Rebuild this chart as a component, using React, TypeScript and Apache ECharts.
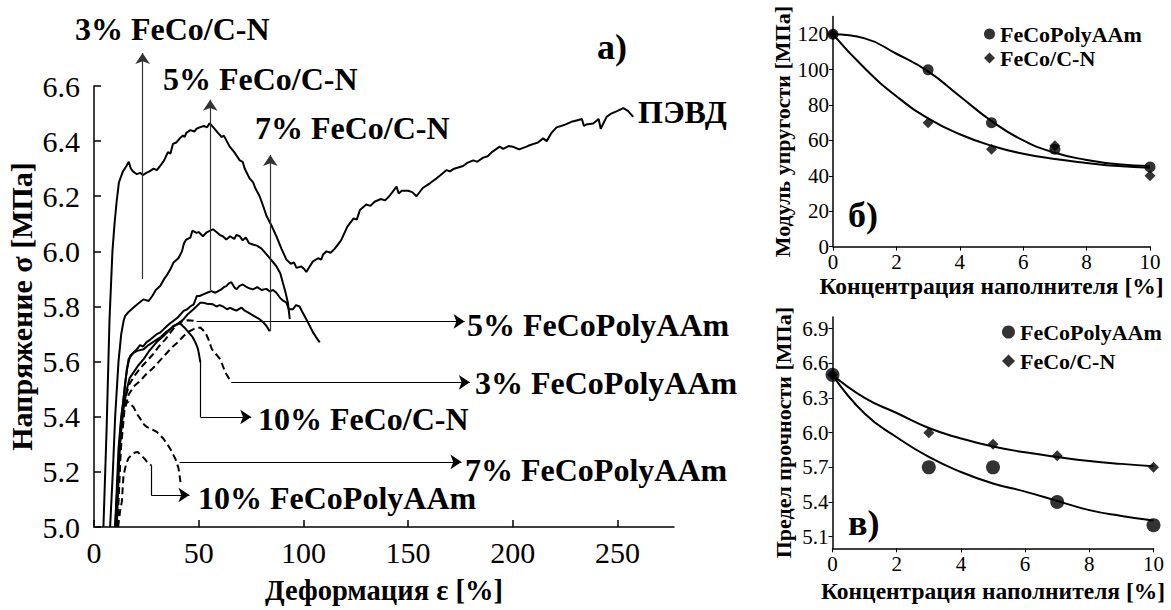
import React, { useEffect, useRef } from "react";
import * as echarts from "echarts";

// ---------- main chart (a): stress-strain curves ----------
const mainXTicks = [0, 50, 100, 150, 200, 250];
const mainYTicks = [5.0, 5.2, 5.4, 5.6, 5.8, 6.0, 6.2, 6.4, 6.6];

const pevd = [
  [4.5, 5.0], [6.0, 5.35], [7.4, 5.75], [8.8, 6.0], [9.8, 6.1], [10.8, 6.18], [11.9, 6.25], [13.8, 6.29],
  [15.5, 6.31], [16.6, 6.325], [17.6, 6.3], [18.6, 6.29], [20.5, 6.28], [22, 6.285], [23.3, 6.277], [25, 6.285],
  [26.5, 6.29], [28.5, 6.3], [30, 6.295], [31.3, 6.307], [33.5, 6.33], [35.3, 6.36], [36.5, 6.355], [37.7, 6.39],
  [39.3, 6.395], [41, 6.41], [42.5, 6.42], [43.3, 6.415], [44.1, 6.43], [46, 6.44], [48, 6.435], [49, 6.445],
  [50.4, 6.45], [52.5, 6.455], [54, 6.45], [55.2, 6.465], [57, 6.45], [59.2, 6.43], [61, 6.415], [62, 6.42],
  [64.8, 6.38], [67, 6.36], [69.6, 6.33], [71, 6.325], [72, 6.3], [74.3, 6.265], [76, 6.25], [77, 6.23],
  [79.1, 6.2], [81, 6.16], [82.3, 6.13], [85, 6.09], [87.1, 6.055], [89.5, 6.01], [91.9, 5.97], [94, 5.955],
  [95.5, 5.96], [96.7, 5.94], [99, 5.945], [100.5, 5.935], [101.4, 5.925], [103, 5.945], [104.6, 5.964],
  [107, 5.975], [108.5, 5.97], [109.5, 5.99], [111, 6.0], [113, 5.995], [115, 6.01], [118, 6.04], [121, 6.09],
  [124, 6.12], [125.5, 6.115], [127, 6.15], [130, 6.17], [132, 6.165], [134, 6.18], [137, 6.19], [139, 6.185],
  [141, 6.2], [144.5, 6.235], [145.5, 6.21], [147, 6.22], [150, 6.22], [152, 6.215], [154, 6.2], [157, 6.23],
  [160.4, 6.247], [163.6, 6.265], [166, 6.28], [168.4, 6.295], [170, 6.29], [172, 6.3], [176.3, 6.31],
  [178, 6.32], [181.1, 6.33], [183, 6.325], [185.9, 6.34], [188, 6.345], [190, 6.36], [193.8, 6.38],
  [195.4, 6.372], [198, 6.382], [200, 6.38], [203, 6.37], [206.6, 6.38], [208, 6.385], [210, 6.39],
  [212, 6.395], [214.5, 6.41], [216.2, 6.4], [218.5, 6.43], [220.9, 6.45], [223, 6.455], [225, 6.46],
  [228, 6.47], [230.5, 6.475], [233, 6.48], [234, 6.455], [235, 6.46], [238.4, 6.464], [241, 6.48],
  [242, 6.445], [244.8, 6.488], [247, 6.5], [250, 6.51], [252.8, 6.52], [255, 6.51], [257.5, 6.488]
];

const c3CN = [
  [7.7, 5.0], [9, 5.2], [10.1, 5.4], [11.7, 5.6], [13, 5.7], [14.2, 5.75], [14.9, 5.766], [16.5, 5.78],
  [18.9, 5.796], [21, 5.81], [23.7, 5.826], [26.1, 5.82], [28, 5.84], [29.5, 5.86], [31.6, 5.874], [33.5, 5.9],
  [34.5, 5.91], [36.4, 5.934], [38, 5.96], [40.4, 5.976], [42, 6.0], [43, 6.03], [44.1, 6.043], [46, 6.05],
  [47, 6.075], [48.9, 6.067], [50, 6.07], [52, 6.055], [54, 6.07], [56.8, 6.08], [58.5, 6.07], [60, 6.06],
  [61.5, 6.055], [63.2, 6.043], [65, 6.055], [67, 6.045], [68, 6.06], [69.6, 6.055], [71, 6.04], [72.5, 6.05],
  [74, 6.03], [75.9, 6.025], [78, 6.02], [80, 6.01], [82.3, 5.99], [84.5, 5.97], [87.1, 5.946], [89, 5.92],
  [90.2, 5.886], [91.5, 5.85], [92.6, 5.814], [93.5, 5.754]
];

const c5CN = [
  [10.1, 5.0], [11.7, 5.284], [13, 5.4], [14.1, 5.465], [15.7, 5.573], [17.3, 5.621], [18.5, 5.63],
  [20.5, 5.645], [22, 5.66], [23.5, 5.655], [25, 5.67], [26.9, 5.68], [28.5, 5.69], [30, 5.7], [31.5, 5.705],
  [33.2, 5.717], [35, 5.73], [36.5, 5.74], [38, 5.748], [40, 5.76], [42.8, 5.784], [44.5, 5.79], [46, 5.8],
  [47.6, 5.808], [49.1, 5.838], [50.4, 5.838], [52.5, 5.845], [54, 5.85], [56, 5.856], [58, 5.85],
  [60.8, 5.862], [62, 5.87], [63.2, 5.874], [64.5, 5.885], [65.6, 5.888], [67, 5.87], [68, 5.862],
  [69.5, 5.875], [71.1, 5.88], [73, 5.87], [74.5, 5.865], [75.9, 5.862], [78, 5.87], [80, 5.86],
  [82.3, 5.864], [84, 5.855], [85.5, 5.86], [87.1, 5.85], [89, 5.83], [90.5, 5.82], [91.9, 5.814],
  [93, 5.79], [95, 5.79], [96.5, 5.805], [98.2, 5.8], [99.5, 5.78], [101.4, 5.754], [103, 5.73],
  [104.6, 5.706], [106, 5.69], [107.8, 5.67]
];

const c7CN = [
  [10.9, 5.0], [12.5, 5.345], [14.9, 5.525], [16.5, 5.609], [18.9, 5.633], [21, 5.64], [23.7, 5.645],
  [26, 5.66], [28, 5.67], [30, 5.68], [32, 5.69], [34, 5.705], [36.4, 5.718], [38.5, 5.73], [40.5, 5.74],
  [42.8, 5.754], [44.5, 5.77], [46, 5.78], [47.5, 5.79], [48.9, 5.8], [50.8, 5.814], [52, 5.814], [54, 5.81],
  [56.8, 5.808], [58.5, 5.8], [60, 5.805], [61.6, 5.8], [63.5, 5.79], [65, 5.795], [66.4, 5.79], [68, 5.785],
  [70.4, 5.796], [72, 5.785], [74.3, 5.775], [76.5, 5.765], [79.1, 5.754], [80.5, 5.745], [82.3, 5.73],
  [83.9, 5.71]
];

const c10CN = [
  [10.1, 5.0], [11.7, 5.224], [13, 5.35], [14.1, 5.429], [15.7, 5.5], [17, 5.54], [18.9, 5.561], [21, 5.585],
  [23.7, 5.609], [26, 5.635], [28.4, 5.657], [30.5, 5.675], [33.2, 5.693], [35.5, 5.71], [38, 5.73],
  [39.5, 5.735], [41.2, 5.738], [43, 5.725], [45.2, 5.706], [47, 5.69], [48.4, 5.67], [49.5, 5.65],
  [50, 5.633], [50.8, 5.597]
];

const d5P = [
  [10.5, 5.0], [12, 5.25], [13.5, 5.4], [15, 5.47], [17, 5.52], [19.5, 5.55], [22, 5.575], [25, 5.6],
  [28, 5.625], [31, 5.655], [34, 5.68], [36.5, 5.705], [38.5, 5.725], [40.5, 5.74], [42.5, 5.748],
  [45, 5.75], [47.5, 5.748], [49, 5.745]
];

const d3P = [
  [11.2, 5.0], [12.8, 5.28], [14.5, 5.42], [16.5, 5.48], [19, 5.51], [22, 5.53], [25, 5.555], [28, 5.575],
  [31, 5.6], [34, 5.625], [37, 5.65], [40, 5.67], [42.8, 5.693], [45.5, 5.71], [47.6, 5.718], [50.8, 5.724],
  [53.2, 5.706], [54.7, 5.68], [56.3, 5.645], [58.5, 5.625], [60.3, 5.609], [61.5, 5.585], [62.7, 5.561],
  [65.1, 5.531]
];

const d7P = [
  [10.8, 5.0], [12, 5.2], [13.5, 5.38], [15, 5.45], [16.5, 5.453], [18.9, 5.435], [20.5, 5.41],
  [22.1, 5.393], [23.5, 5.375], [25.2, 5.363], [27.5, 5.355], [30, 5.345], [33.2, 5.32], [35, 5.3],
  [36.4, 5.284], [38, 5.26], [39, 5.245], [40.4, 5.212], [41, 5.18], [41.5, 5.15]
];

const d10P = [
  [11.5, 5.0], [12.5, 5.06], [13.3, 5.092], [14.1, 5.188], [15.4, 5.23], [16.5, 5.25], [17.8, 5.26],
  [19.5, 5.27], [20.9, 5.272], [22.5, 5.26], [24.1, 5.248], [25.5, 5.235], [27.3, 5.224]
];

// annotation leader lines (data coordinates): arrowed segments and plain elbows
const arrowUp3CN = [[23.2, 5.9], [23.2, 6.72]];
const arrowUp5CN = [[55.5, 5.86], [55.5, 6.55]];
const arrowUp7CN = [[84.2, 5.71], [84.2, 6.35]];
const link5P = [[49, 5.746], [177, 5.746]];
const link3P = [[65.6, 5.525], [179.5, 5.525]];
const link7P = [[40.9, 5.236], [175.5, 5.236]];
const elbow10CN = [[50.8, 5.6], [50.8, 5.399]];
const link10CN = [[50.8, 5.399], [75.1, 5.399]];
const elbow10P = [[27.3, 5.224], [27.3, 5.116]];
const link10P = [[27.3, 5.116], [45.6, 5.116]];

// ---------- chart (б): elastic modulus ----------
const concX = [0, 3, 5, 7, 10];
const fitX = [0, 1, 2, 3, 4, 5, 6, 7, 8, 9, 10];
const modPoly = [120, 100, 70, 55, 45];
const modCN = [120, 70, 55, 57, 40];
const modPolyFit = [120, 117.7, 109, 99, 85, 71, 60, 53, 49, 46.5, 45.5];
const modCNFit = [120, 100.8, 85, 72.5, 63.5, 57, 52.5, 49.5, 47.3, 45.5, 44.5];
const modYTicks = [0, 20, 40, 60, 80, 100, 120];

// ---------- chart (в): tensile strength ----------
const strPoly = [6.5, 5.7, 5.7, 5.4, 5.2];
const strCN = [6.5, 6.0, 5.9, 5.8, 5.7];
const strPolyFit = [6.5, 6.165, 5.96, 5.79, 5.66, 5.56, 5.49, 5.41, 5.33, 5.28, 5.24];
const strCNFit = [6.5, 6.3, 6.17, 6.04, 5.95, 5.88, 5.83, 5.79, 5.755, 5.73, 5.71];
const strYTicks = [5.1, 5.4, 5.7, 6.0, 6.3, 6.6, 6.9];

const FONT = "Liberation Serif";
const zip = (xs: number[], ys: number[]) => xs.map((x, i) => [x, ys[i]]);

function App() {
  const ref = useRef<HTMLDivElement>(null);
  useEffect(() => {
    if (!ref.current) return;
    const chart = echarts.init(ref.current, undefined, { renderer: "svg" });
    const axisLine = { show: true, lineStyle: { color: "#000", width: 1.5 } };
    const mainLine = (name: string, data: number[][], dashed = false) => ({
      type: "line", name, data, xAxisIndex: 0, yAxisIndex: 0, showSymbol: false, symbol: "none",
      lineStyle: { color: "#000", width: 2, type: dashed ? [7, 4] : "solid" }, z: 3
    });
    const lead = (coords: number[][], color = "#000") => ({
      coords, lineStyle: { color, width: 1.2 }
    });
    const smallX = (grid: number, name: string, nameGap: number) => ({
      type: "value", gridIndex: grid, min: 0, max: 10, interval: 2,
      axisLine, splitLine: { show: false },
      axisTick: { show: true, inside: false, length: 4, lineStyle: { color: "#000" } },
      axisLabel: { color: "#000", fontSize: 21, fontFamily: FONT, margin: 5 },
      name, nameLocation: "middle", nameGap,
      nameTextStyle: { color: "#000", fontSize: 23.5, fontWeight: "bold", fontFamily: FONT }
    });
    const textEl = (text: string, x: number, y: number, size: number) => ({
      type: "text", x, y, z: 10,
      style: {
        text, fill: "#000", fontSize: size, fontWeight: "bold", fontFamily: FONT,
        verticalAlign: "middle", align: "left"
      }
    });

    chart.setOption({
      animation: false,
      backgroundColor: "#fff",
      textStyle: { fontFamily: FONT },
      grid: [
        { left: 94, top: 86, width: 580, height: 443 },
        { left: 833, top: 16.6, width: 317, height: 230 },
        { left: 832.5, top: 317, width: 321, height: 231.3 }
      ],
      xAxis: [
        {
          type: "value", gridIndex: 0, min: 0, max: 277,
          axisLine, splitLine: { show: false },
          axisTick: { show: true, inside: true, length: 7, customValues: mainXTicks, lineStyle: { color: "#000", width: 1.5 } },
          axisLabel: { color: "#000", fontSize: 30, fontFamily: FONT, margin: 10, customValues: mainXTicks },
          name: "Деформация ε [%]", nameLocation: "middle", nameGap: 49,
          nameTextStyle: { color: "#000", fontSize: 28.5, fontWeight: "bold", fontFamily: FONT }
        },
        smallX(1, "Концентрация наполнителя [%]", 27),
        smallX(2, "Концентрация наполнителя [%]", 31)
      ],
      yAxis: [
        {
          type: "value", gridIndex: 0, min: 5.0, max: 6.6, interval: 0.2,
          axisLine, splitLine: { show: false },
          axisTick: { show: true, inside: true, length: 7, lineStyle: { color: "#000", width: 1.5 } },
          axisLabel: { color: "#000", fontSize: 30, fontFamily: FONT, margin: 14, formatter: (v: number) => v.toFixed(1) },
          name: "Напряжение σ [МПа]", nameLocation: "middle", nameGap: 58,
          nameTextStyle: { color: "#000", fontSize: 30, fontWeight: "bold", fontFamily: FONT }
        },
        {
          type: "value", gridIndex: 1, min: 0, max: 130,
          axisLine, splitLine: { show: false },
          axisTick: { show: true, inside: false, length: 4, customValues: modYTicks, lineStyle: { color: "#000" } },
          axisLabel: { color: "#000", fontSize: 21, fontFamily: FONT, margin: 4, customValues: modYTicks },
          name: "Модуль упругости [МПа]", nameLocation: "middle", nameGap: 38,
          nameTextStyle: { color: "#000", fontSize: 22, fontWeight: "bold", fontFamily: FONT }
        },
        {
          type: "value", gridIndex: 2, min: 5.0, max: 7.0,
          axisLine, splitLine: { show: false },
          axisTick: { show: true, inside: false, length: 4, customValues: strYTicks, lineStyle: { color: "#000" } },
          axisLabel: { color: "#000", fontSize: 21, fontFamily: FONT, margin: 4, customValues: strYTicks, formatter: (v: number) => v.toFixed(1) },
          name: "Предел прочности [МПа]", nameLocation: "middle", nameGap: 38,
          nameTextStyle: { color: "#000", fontSize: 22, fontWeight: "bold", fontFamily: FONT }
        }
      ],
      legend: [
        {
          left: 979, top: 18, orient: "vertical", itemGap: 2, itemWidth: 11, itemHeight: 11,
          data: [{ name: "FeCoPolyAAm", icon: "circle" }, { name: "FeCo/C-N", icon: "diamond" }],
          textStyle: { color: "#000", fontSize: 22, fontWeight: "bold", fontFamily: FONT }
        },
        {
          left: 997, top: 316, orient: "vertical", itemGap: 7, itemWidth: 13, itemHeight: 13,
          data: [{ name: "FeCoPolyAAm", icon: "circle" }, { name: "FeCo/C-N", icon: "diamond" }],
          textStyle: { color: "#000", fontSize: 22, fontWeight: "bold", fontFamily: FONT }
        }
      ],
      series: [
        mainLine("ПЭВД", pevd),
        mainLine("3% FeCo/C-N", c3CN),
        mainLine("5% FeCo/C-N", c5CN),
        mainLine("7% FeCo/C-N", c7CN),
        mainLine("10% FeCo/C-N", c10CN),
        mainLine("3% FeCoPolyAAm", d3P, true),
        mainLine("5% FeCoPolyAAm", d5P, true),
        mainLine("7% FeCoPolyAAm", d7P, true),
        mainLine("10% FeCoPolyAAm", d10P, true),
        {
          type: "lines", coordinateSystem: "cartesian2d", xAxisIndex: 0, yAxisIndex: 0,
          clip: false, symbol: ["none", "arrow"], symbolSize: [7, 11], silent: true, z: 4,
          lineStyle: { color: "#000", width: 1.2, opacity: 1 },
          data: [
            lead(arrowUp3CN, "#333"), lead(arrowUp5CN, "#333"), lead(arrowUp7CN, "#333"),
            lead(link5P), lead(link3P), lead(link7P), lead(link10CN), lead(link10P)
          ]
        },
        {
          type: "lines", coordinateSystem: "cartesian2d", xAxisIndex: 0, yAxisIndex: 0,
          clip: false, symbol: "none", silent: true, z: 4,
          lineStyle: { color: "#000", width: 1.2, opacity: 1 },
          data: [lead(elbow10CN), lead(elbow10P)]
        },
        // (б)
        {
          type: "line", name: "FeCoPolyAAm fit", xAxisIndex: 1, yAxisIndex: 1, smooth: true, symbol: "none",
          data: zip(fitX, modPolyFit), lineStyle: { color: "#000", width: 2 }
        },
        {
          type: "line", name: "FeCo/C-N fit", xAxisIndex: 1, yAxisIndex: 1, smooth: true, symbol: "none",
          data: zip(fitX, modCNFit), lineStyle: { color: "#000", width: 2 }
        },
        {
          type: "scatter", name: "FeCoPolyAAm", xAxisIndex: 1, yAxisIndex: 1, symbol: "circle", symbolSize: 11,
          data: zip(concX, modPoly), itemStyle: { color: "#000" }
        },
        {
          type: "scatter", name: "FeCo/C-N", xAxisIndex: 1, yAxisIndex: 1, symbol: "diamond", symbolSize: 11,
          data: zip(concX, modCN), itemStyle: { color: "#000" }
        },
        // (в)
        {
          type: "line", name: "FeCoPolyAAm fit2", xAxisIndex: 2, yAxisIndex: 2, smooth: true, symbol: "none",
          data: zip(fitX, strPolyFit), lineStyle: { color: "#000", width: 2 }
        },
        {
          type: "line", name: "FeCo/C-N fit2", xAxisIndex: 2, yAxisIndex: 2, smooth: true, symbol: "none",
          data: zip(fitX, strCNFit), lineStyle: { color: "#000", width: 2 }
        },
        {
          type: "scatter", name: "FeCoPolyAAm", xAxisIndex: 2, yAxisIndex: 2, symbol: "circle", symbolSize: 14,
          data: zip(concX, strPoly), itemStyle: { color: "#000" }
        },
        {
          type: "scatter", name: "FeCo/C-N", xAxisIndex: 2, yAxisIndex: 2, symbol: "diamond", symbolSize: 11,
          data: zip(concX, strCN), itemStyle: { color: "#000" }
        }
      ],
      graphic: [
        textEl("3% FeCo/C-N", 75, 29, 32),
        textEl("5% FeCo/C-N", 163, 79, 32),
        textEl("7% FeCo/C-N", 255, 128, 32),
        textEl("а)", 597, 47, 36),
        textEl("ПЭВД", 638, 112, 32),
        textEl("5% FeCoPolyAAm", 467, 325, 32),
        textEl("3% FeCoPolyAAm", 475, 383, 32),
        textEl("10% FeCo/C-N", 258, 419, 32),
        textEl("7% FeCoPolyAAm", 465, 470, 32),
        textEl("10% FeCoPolyAAm", 198, 498, 32),
        textEl("б)", 848, 215, 36),
        textEl("в)", 848, 523, 36)
      ]
    });
    return () => chart.dispose();
  }, []);
  return <div ref={ref} style={{ position: "fixed", left: 0, top: 0, width: 1171, height: 610 }} />;
}

export default App;
